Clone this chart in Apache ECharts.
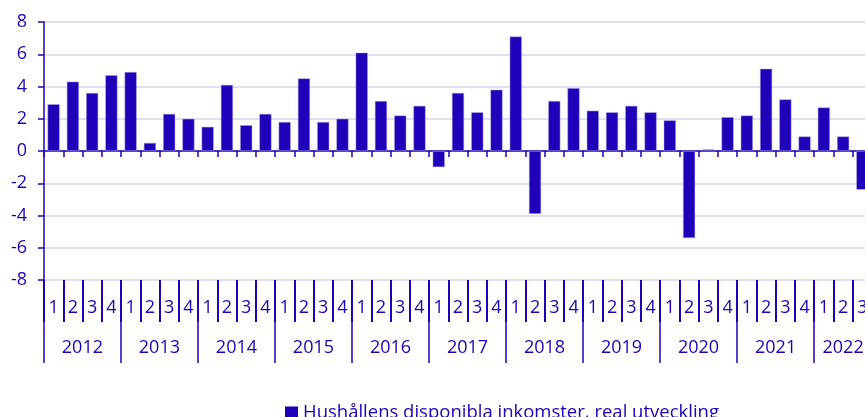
<!DOCTYPE html>
<html>
<head>
<meta charset="utf-8">
<script src="https://cdn.jsdelivr.net/npm/echarts@6/dist/echarts.min.js"></script>
<style>
  html, body { margin: 0; padding: 0; background: #fff; }
  #chart { width: 865px; height: 417px; }
</style>
</head>
<body>
<div id="chart"></div>
<script>
// quarterly real growth of household disposable income, 2012K1 - 2022K3
const years = ['2012', '2013', '2014', '2015', '2016', '2017', '2018', '2019', '2020', '2021', '2022']
const quarterLabels = ['1', '2', '3', '4']
const values = [
  2.9, 4.3, 3.6, 4.7,   // 2012
  4.9, 0.5, 2.3, 2.0,   // 2013
  1.5, 4.1, 1.6, 2.3,   // 2014
  1.8, 4.5, 1.8, 2.0,   // 2015
  6.1, 3.1, 2.2, 2.8,   // 2016
  -1.0, 3.6, 2.4, 3.8,  // 2017
  7.1, -3.9, 3.1, 3.9,  // 2018
  2.5, 2.4, 2.8, 2.4,   // 2019
  1.9, -5.4, 0.1, 2.1,  // 2020
  2.2, 5.1, 3.2, 0.9,   // 2021
  2.7, 0.9, -2.4        // 2022
]
const seriesName = 'Hushållens disponibla inkomster, real utveckling'

// category keys like "2012K1", one per bar
const periods = []
years.forEach(y => quarterLabels.forEach(q => periods.push(y + 'K' + q)))
periods.length = values.length

const BLUE = '#2000B8'
const GRIDLINE = '#D4D4EE'
const FONT = 'Open Sans'

const chart = echarts.init(document.getElementById('chart'))

const option = {
  animation: false,
  textStyle: { fontFamily: FONT },
  grid: {
    left: 44,
    right: -7,
    top: 22,
    bottom: 137,
    outerBoundsMode: 'none',
    containLabel: false
  },
  legend: {
    data: [seriesName],
    left: 280,
    top: 398,
    icon: 'rect',
    itemWidth: 13,
    itemHeight: 12,
    itemStyle: { borderWidth: 0 },
    textStyle: { color: BLUE, fontSize: 18.5, fontFamily: FONT }
  },
  xAxis: [
    {
      // zero line with short ticks between quarters
      type: 'category',
      data: periods,
      position: 'bottom',
      axisLine: { onZero: true, lineStyle: { color: BLUE, width: 1.5 } },
      axisTick: { show: true, interval: 0, length: 6, lineStyle: { color: BLUE, width: 1.5 } },
      axisLabel: { show: false, interval: 0 },
      splitLine: { show: false }
    },
    {
      // quarter numbers
      type: 'category',
      data: periods,
      position: 'bottom',
      axisLine: { show: false, onZero: false },
      axisTick: { show: true, interval: 0, length: 42, lineStyle: { color: BLUE, width: 2 } },
      axisLabel: {
        interval: 0,
        margin: 19,
        color: BLUE,
        fontSize: 18,
        fontFamily: FONT,
        formatter: v => v.slice(5)
      },
      splitLine: { show: false }
    },
    {
      // year labels with long separators
      type: 'category',
      data: periods,
      position: 'bottom',
      axisLine: { show: false, onZero: false },
      axisTick: {
        show: true,
        interval: i => i % 4 === 0,
        length: 83,
        lineStyle: { color: BLUE, width: 1.5 }
      },
      axisLabel: {
        interval: i => i % 4 === 1,
        margin: 59,
        color: BLUE,
        fontSize: 18,
        fontFamily: FONT,
        formatter: (v, i) => {
          const yr = v.slice(0, 4)
          // full years: centre between Q2 and Q3; last year only has three quarters
          return i + 3 < periods.length ? '{full|' + yr + '}' : '{part|' + yr + '}'
        },
        rich: {
          full: { color: BLUE, fontSize: 18, fontFamily: FONT, padding: [0, 0, 0, 19] },
          part: { color: BLUE, fontSize: 18, fontFamily: FONT }
        }
      },
      splitLine: { show: false }
    }
  ],
  yAxis: {
    type: 'value',
    min: -8,
    max: 8,
    interval: 2,
    axisLine: { show: true, lineStyle: { color: BLUE, width: 1.5 } },
    axisTick: { show: true, length: 6, lineStyle: { color: BLUE, width: 1.5 } },
    axisLabel: { color: BLUE, fontSize: 18, fontFamily: FONT, margin: 17 },
    splitLine: { show: true, lineStyle: { color: GRIDLINE, width: 1.5 } }
  },
  series: [
    {
      name: seriesName,
      type: 'bar',
      xAxisIndex: 0,
      data: values,
      barCategoryGap: '37%',
      itemStyle: { color: BLUE, borderColor: '#B8B0E8', borderWidth: 0.5 }
    }
  ]
}

chart.setOption(option)
</script>
</body>
</html>
